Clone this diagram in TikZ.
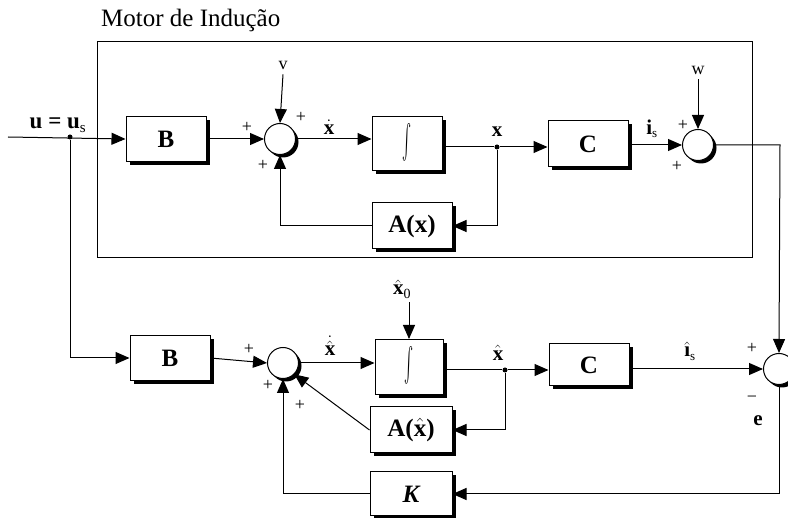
\documentclass[tikz,border=0pt]{standalone}
\usepackage{fontspec}
\setmainfont{Liberation Serif}
\usetikzlibrary{arrows.meta,shadows,calc}
\tikzset{
 blk/.style={draw, line width=1pt, fill=white, minimum width=80pt, minimum height=45pt, inner sep=0pt,
   font=\fontsize{25}{26}\selectfont\bfseries,
   drop shadow={shadow xshift=4pt, shadow yshift=-3.5pt, opacity=1, fill=black}},
 sumc/.style={circle, draw, line width=1pt, fill=white, minimum size=31pt, inner sep=0pt,
   drop shadow={shadow xshift=3pt, shadow yshift=-3pt, opacity=1, fill=black}},
 arr/.style={-{Triangle[length=14pt,width=12pt]}, line width=1pt},
 ln/.style={line width=1pt},
 sgn/.style={font=\fontsize{18}{18}\selectfont, inner sep=0pt},
 lbl/.style={font=\fontsize{21}{21}\selectfont\bfseries, inner sep=0pt},
 dotj/.style={circle, fill=black, minimum size=5pt, inner sep=0pt},
}
\newcommand{\bigint}{\resizebox{9pt}{40pt}{$\int$}}
\begin{document}
\begin{tikzpicture}[x=1pt,y=-1pt]
\useasboundingbox (0,0) rectangle (788,518);
% motor box
\node[anchor=west, font=\fontsize{25}{25}\selectfont, inner sep=0pt] (mtitle) at (101,20) {Motor de Indução};
\draw[ln] (97,42) rectangle (752,258);
% top row
\coordinate (uin) at (8,137);
\node[dotj] (j0) at (70,137) {};
\node[lbl, font=\fontsize{23}{23}\selectfont\bfseries] (ulab) at (58,125) {u = u\textsubscript{\normalfont\fontsize{15}{15}\selectfont s}};
\node[blk] (B1) at (166,139) {B};
\node[sumc] (S1) at (280,139) {};
\node[font=\fontsize{18}{18}\selectfont, inner sep=0pt] (v) at (283,65) {v};
\node[blk, minimum width=70pt, minimum height=54pt] (I1) at (407,144) {\bigint};
\node[dotj] (jx) at (497,147) {};
\node[blk, minimum height=46pt] (C1) at (588,144) {C};
\node[sumc] (S2) at (698,145) {};
\node[font=\fontsize{18}{18}\selectfont, inner sep=0pt] (w) at (698,70) {w};
\node[blk, minimum height=46pt] (A1) at (412,226) {A(x)};
% top labels
\node[lbl] (xdot) at (329,127) {$\dot{\mbox{\textbf{x}}}$};
\node[lbl] (xl) at (497,132) {x};
\node[lbl] (isl) at (652,129) {i\textsubscript{\normalfont\fontsize{13}{13}\selectfont s}};
\node[sgn] at (247,127) {+};
\node[sgn] at (301,117) {+};
\node[sgn] at (263,165) {+};
\node[sgn] at (683,125) {+};
\node[sgn] at (677,166) {+};
% top connections
\draw[arr] (uin) -- (B1.west);
\draw[arr] (B1.east) -- (S1.west);
\draw[arr] (v.south) ++(0,5) -- (S1.north);
\draw[arr] (S1.east) -- (I1.west |- S1.east);
\draw[ln] (I1.east |- jx) -- (jx);
\draw[arr] (jx) -- (C1.west |- jx);
\draw[arr] (C1.east |- S2.west) -- (S2.west);
\draw[arr] (w.south) ++(0,5) -- (S2.north);
\draw[arr] (jx) |- (A1.east);
\draw[arr] (A1.west) -| (S1.south);
% bottom row
\node[blk] (B2) at (170,358) {B};
\node[sumc] (S3) at (283,363) {};
\node[blk, minimum width=68pt, minimum height=55pt] (I2) at (409,367) {\bigint};
\node[lbl] (x0) at (402,289) {$\hat{\mbox{\textbf{x}}}$\textsubscript{\normalfont\fontsize{14}{14}\selectfont 0}};
\node[dotj] (jxh) at (505,370) {};
\node[blk, minimum height=42pt] (C2) at (589,365) {C};
\node[sumc] (S4) at (779,369) {};
\node[blk, minimum width=82pt, minimum height=46pt] (A2) at (411,430) {A($\hat{\mbox{\textbf{x}}}$)};
\node[blk, minimum width=82pt, minimum height=44pt] (K) at (411,494) {\itshape K};
% bottom labels
\node[lbl] (xhd) at (330,346) {$\dot{\hat{\mbox{\textbf{x}}}}$};
\node[lbl] (xh) at (498,353) {$\hat{\mbox{\textbf{x}}}$};
\node[lbl] (ihs) at (690,351) {$\hat{\mbox{\textbf{\i}}}$\textsubscript{\normalfont\fontsize{13}{13}\selectfont s}};
\node[sgn] at (249,349) {+};
\node[sgn] at (268,385) {+};
\node[sgn] at (300,405) {+};
\node[sgn] at (752,348) {+};
\node[sgn] at (752,399) {\textminus};
\node[lbl] (e) at (758,421) {e};
% bottom connections
\coordinate (sout) at (780,145);
\draw[arr] (S2.east) -- (sout) -- (S4.north);
\draw[arr] (j0) |- (B2.west);
\draw[arr] (B2.east) -- (S3.west);
\draw[arr] (x0.south -| I2.north) ++(0,4) -- (I2.north);
\draw[arr] (S3.east) -- (I2.west |- S3.east);
\draw[ln] (I2.east |- jxh) -- (jxh);
\draw[arr] (jxh) -- (C2.west |- jxh);
\draw[arr] (C2.east |- S4.west) -- (S4.west);
\draw[arr] (jxh) |- (A2.east);
\draw[arr] (A2.west) -- (S3.-45);
\draw[arr] (S4.south) |- (K.east);
\draw[arr] (K.west) -| (S3.south);
\end{tikzpicture}
\end{document}
